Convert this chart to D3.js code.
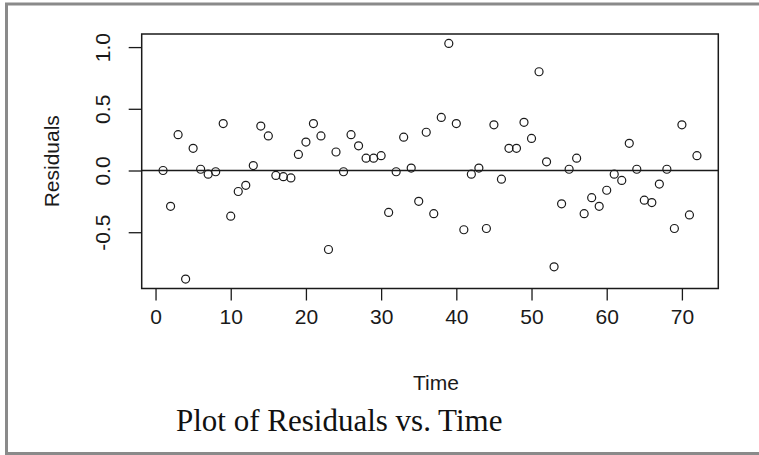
<!DOCTYPE html>
<html>
<head>
<meta charset="utf-8">
<script src="https://cdn.jsdelivr.net/npm/d3@7.9.0/dist/d3.min.js"></script>
<style>
  body { margin: 0; background: #fff; }
  svg { display: block; }
</style>
</head>
<body>
<svg id="chart" width="759" height="455"></svg>
<script>
// residuals, time = 1..72
const residuals = [
  0.00, -0.29, 0.29, -0.88, 0.18, 0.01, -0.03, -0.01, 0.38, -0.37,
  -0.17, -0.12, 0.04, 0.36, 0.28, -0.04, -0.05, -0.06, 0.13, 0.23,
  0.38, 0.28, -0.64, 0.15, -0.01, 0.29, 0.20, 0.10, 0.10, 0.12,
  -0.34, -0.01, 0.27, 0.02, -0.25, 0.31, -0.35, 0.43, 1.03, 0.38,
  -0.48, -0.03, 0.02, -0.47, 0.37, -0.07, 0.18, 0.18, 0.39, 0.26,
  0.80, 0.07, -0.78, -0.27, 0.01, 0.10, -0.35, -0.22, -0.29, -0.16,
  -0.03, -0.08, 0.22, 0.01, -0.24, -0.26, -0.11, 0.01, -0.47, 0.37,
  -0.36, 0.12
];
const times = residuals.map((_, i) => i + 1);
const xTicks = [0, 10, 20, 30, 40, 50, 60, 70];
const yTicks = [-0.5, 0.0, 0.5, 1.0];

const svg = d3.select("#chart");

// frame around the figure (no right edge in the reference)
svg.append("path")
  .attr("d", "M759,4 H6.5 V453.5 H759")
  .attr("fill", "none")
  .attr("stroke", "#8a8a8a")
  .attr("stroke-width", 3);

const box = { left: 141.7, right: 718.3, top: 34, bottom: 288.5 };

// R style 4% padding on both axes
const x = d3.scaleLinear().domain([-1.84, 74.84]).range([box.left, box.right]);
const y = d3.scaleLinear().domain([-0.956, 1.106]).range([box.bottom, box.top]);

const ink = "#1a1a1a";

const xAxis = d3.axisBottom(x).tickValues(xTicks).tickFormat((d) => String(d))
  .tickSizeOuter(0).tickSizeInner(12).tickPadding(9);
const gx = svg.append("g").attr("transform", `translate(0,${box.bottom})`).call(xAxis);
gx.select(".domain").remove();

// plain hyphen for negatives, as R prints them
const yAxis = d3.axisLeft(y).tickValues(yTicks).tickFormat((d) => d.toFixed(1))
  .tickSizeOuter(0).tickSizeInner(13);
const gy = svg.append("g").attr("transform", `translate(${box.left},0)`).call(yAxis);
gy.select(".domain").remove();

[gx, gy].forEach((g) => {
  g.selectAll("line").attr("stroke", ink).attr("stroke-width", 1.3);
  g.selectAll("text")
    .attr("fill", ink)
    .style("font-family", "Liberation Sans, Arial, sans-serif")
    .style("font-size", "21px");
});

// rotated y tick labels like R's default las=0 (tick groups are already at y(d))
gy.selectAll("text")
  .attr("x", null).attr("dy", null)
  .attr("text-anchor", "middle")
  .attr("transform", `translate(${110 - box.left},0) rotate(-90)`);

// zero line
svg.append("line")
  .attr("x1", box.left).attr("x2", box.right)
  .attr("y1", y(0)).attr("y2", y(0))
  .attr("stroke", ink).attr("stroke-width", 1.3);

// plot box
svg.append("rect")
  .attr("x", box.left).attr("y", box.top)
  .attr("width", box.right - box.left).attr("height", box.bottom - box.top)
  .attr("fill", "none").attr("stroke", ink).attr("stroke-width", 1.5);

// points
svg.append("g").selectAll("circle")
  .data(residuals)
  .join("circle")
  .attr("cx", (d, i) => x(times[i]))
  .attr("cy", (d) => y(d))
  .attr("r", 4)
  .attr("fill", "none")
  .attr("stroke", ink)
  .attr("stroke-width", 1.2);

// axis titles
svg.append("text")
  .attr("x", x(37.3)).attr("y", 390)
  .attr("text-anchor", "middle")
  .attr("fill", ink)
  .style("font-family", "Liberation Sans, Arial, sans-serif")
  .style("font-size", "21px")
  .text("Time");

svg.append("text")
  .attr("transform", `translate(59,${(box.top + box.bottom) / 2}) rotate(-90)`)
  .attr("text-anchor", "middle")
  .attr("fill", ink)
  .style("font-family", "Liberation Sans, Arial, sans-serif")
  .style("font-size", "21px")
  .text("Residuals");

// caption
svg.append("text")
  .attr("x", 176).attr("y", 431)
  .attr("fill", "#111")
  .style("font-family", "Liberation Serif, 'Times New Roman', serif")
  .style("font-size", "31px")
  .text("Plot of Residuals vs. Time");
</script>
</body>
</html>
